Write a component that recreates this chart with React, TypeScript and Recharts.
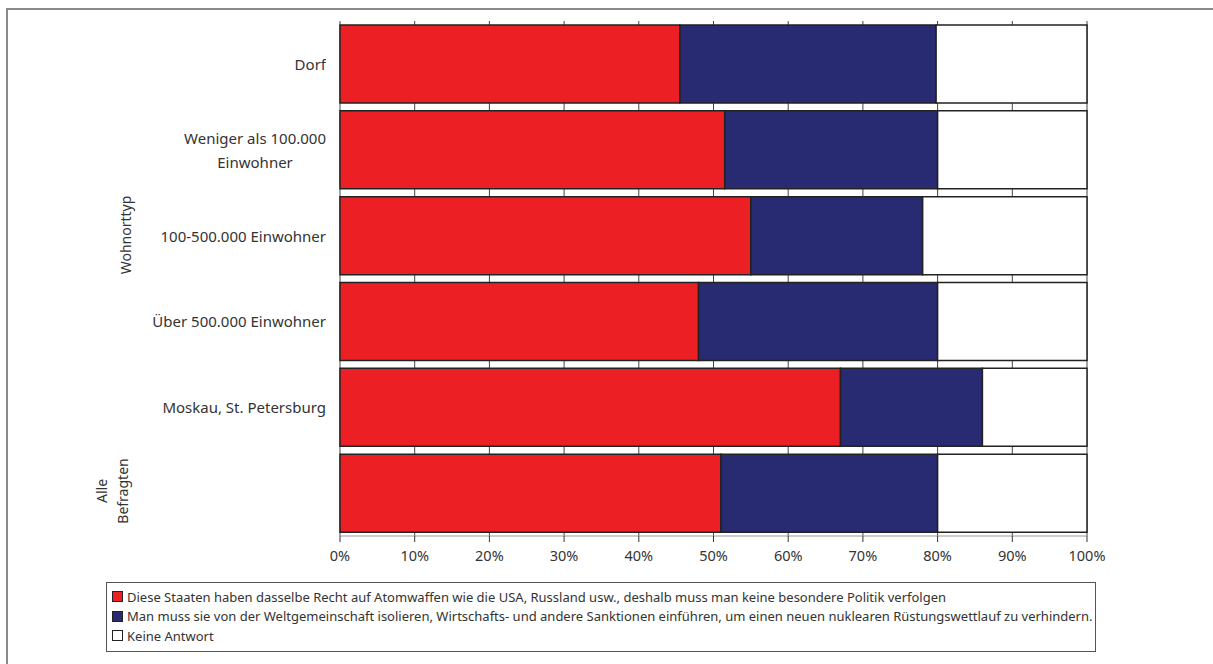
import React from "react";
import { BarChart, Bar, XAxis, YAxis, CartesianGrid } from "recharts";

// ---------------------------------------------------------------------------
// Data
// ---------------------------------------------------------------------------

const categories = [
  "Dorf",
  "Weniger als 100.000 Einwohner",
  "100-500.000 Einwohner",
  "Über 500.000 Einwohner",
  "Moskau, St. Petersburg",
  "Alle Befragten",
];

// tick text per category (lines), the last row is labelled by its group only
const tickLabels: string[][] = [
  ["Dorf"],
  ["Weniger als 100.000", "Einwohner"],
  ["100-500.000 Einwohner"],
  ["Über 500.000 Einwohner"],
  ["Moskau, St. Petersburg"],
  [],
];

const gleichesRecht = [45.5, 51.5, 55, 48, 67, 51];
const isolieren = [34.3, 28.5, 23, 32, 19, 29];
const keineAntwort = [20.2, 20, 22, 20, 14, 20];

const xTicks = [0, 10, 20, 30, 40, 50, 60, 70, 80, 90, 100];

const seriesNames = [
  "Diese Staaten haben dasselbe Recht auf Atomwaffen wie die USA, Russland usw., deshalb muss man keine besondere Politik verfolgen",
  "Man muss sie von der Weltgemeinschaft isolieren, Wirtschafts- und andere Sanktionen einführen, um einen neuen nuklearen Rüstungswettlauf zu verhindern.",
  "Keine Antwort",
];

const COLORS = ["#ec2024", "#282a72", "#ffffff"];
const FONT = "'Noto Sans', Lato, sans-serif";
const TEXT = "#333";

const data = categories.map((name, i) => ({
  name,
  a: gleichesRecht[i],
  b: isolieren[i],
  c: keineAntwort[i],
}));

// ---------------------------------------------------------------------------
// Y tick: right aligned block, lines centred on each other
// ---------------------------------------------------------------------------

// eslint-disable-next-line @typescript-eslint/no-explicit-any
function CategoryTick({ x, y, payload }: Record<string, any>) {
  const lines = tickLabels[payload.index] ?? [];
  if (!lines.length) return null;
  return (
    <foreignObject x={x - 320} y={y - 30} width={314} height={60}>
      <div
        style={{
          width: "100%",
          height: "100%",
          display: "flex",
          justifyContent: "flex-end",
          alignItems: "center",
        }}
      >
        <div
          style={{
            textAlign: "center",
            fontFamily: FONT,
            fontSize: 15,
            lineHeight: "24px",
            color: TEXT,
            whiteSpace: "nowrap",
          }}
        >
          {lines.map((l) => (
            <div key={l}>{l}</div>
          ))}
        </div>
      </div>
    </foreignObject>
  );
}

// ---------------------------------------------------------------------------
// Component
// ---------------------------------------------------------------------------

export default function App() {
  return (
    <div
      style={{
        position: "absolute",
        left: 0,
        top: 0,
        width: 1213,
        height: 664,
        background: "#fff",
        overflow: "hidden",
        fontFamily: FONT,
      }}
    >
      {/* outer frame */}
      <div
        style={{
          position: "absolute",
          left: 6,
          top: 8,
          width: 1300,
          height: 700,
          borderLeft: "2px solid #8a8a8a",
          borderTop: "2px solid #8a8a8a",
        }}
      />

      <div style={{ position: "absolute", left: 0, top: 0 }}>
        <BarChart
          width={1213}
          height={575}
          data={data}
          layout="vertical"
          margin={{ top: 21, right: 126, left: 0, bottom: 0 }}
          barCategoryGap={4}
        >
          <CartesianGrid
            vertical
            horizontal={false}
            stroke="#444"
            strokeWidth={1}
          />
          <XAxis
            type="number"
            domain={[0, 100]}
            ticks={xTicks}
            tickFormatter={(v: number) => `${v}%`}
            tick={{ fill: TEXT, fontSize: 14.5, fontFamily: FONT }}
            axisLine={{ stroke: "#999" }}
            tickLine={{ stroke: "#333" }}
            tickSize={6}
            tickMargin={9}
            height={39}
          />
          <YAxis
            type="category"
            dataKey="name"
            width={340}
            axisLine={false}
            tickLine={false}
            tick={<CategoryTick />}
            interval={0}
          />
          <Bar dataKey="a" stackId="s" fill={COLORS[0]} stroke="#222" strokeWidth={1.5} isAnimationActive={false} />
          <Bar dataKey="b" stackId="s" fill={COLORS[1]} stroke="#222" strokeWidth={1.5} isAnimationActive={false} />
          <Bar dataKey="c" stackId="s" fill={COLORS[2]} stroke="#222" strokeWidth={1.5} isAnimationActive={false} />
        </BarChart>
      </div>

      {/* group labels */}
      <div
        style={{
          position: "absolute",
          left: 125,
          top: 235,
          transform: "translate(-50%, -50%) rotate(-90deg)",
          fontSize: 14,
          color: TEXT,
          whiteSpace: "nowrap",
        }}
      >
        Wohnorttyp
      </div>
      <div
        style={{
          position: "absolute",
          left: 112,
          top: 491,
          transform: "translate(-50%, -50%) rotate(-90deg)",
          fontSize: 14,
          lineHeight: "21px",
          color: TEXT,
          textAlign: "center",
          whiteSpace: "nowrap",
        }}
      >
        Alle
        <br />
        Befragten
      </div>

      {/* legend */}
      <div
        style={{
          position: "absolute",
          left: 106,
          top: 582,
          width: 990,
          height: 70,
          border: "1px solid #555",
          padding: "4px 0 0 5px",
          boxSizing: "border-box",
        }}
      >
        {seriesNames.map((s, i) => (
          <div
            key={s}
            style={{
              display: "flex",
              alignItems: "center",
              height: 19.5,
              fontSize: 13,
              color: TEXT,
              whiteSpace: "nowrap",
            }}
          >
            <span
              style={{
                display: "inline-block",
                width: 9,
                height: 9,
                background: COLORS[i],
                border: "1px solid #222",
                marginRight: 4,
              }}
            />
            {s}
          </div>
        ))}
      </div>
    </div>
  );
}
